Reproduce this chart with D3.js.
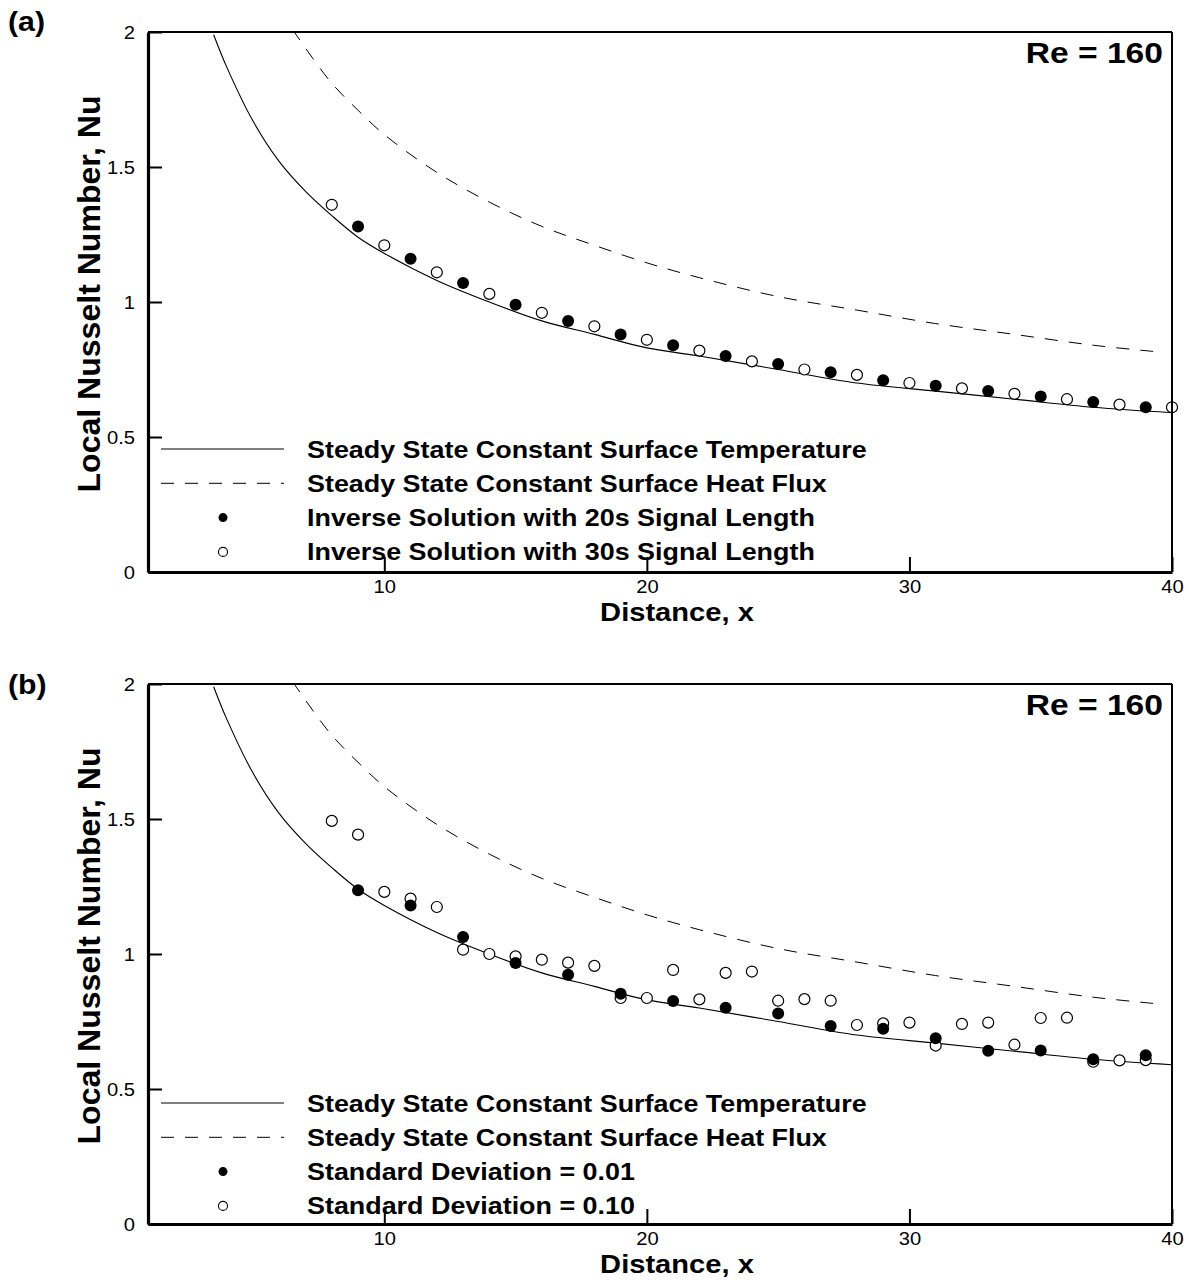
<!DOCTYPE html>
<html>
<head>
<meta charset="utf-8">
<script src="https://cdn.jsdelivr.net/npm/d3@7"></script>
<style>
  body { margin: 0; background: #fff; }
  svg { display: block; font-family: "Liberation Sans", Arial, sans-serif; }
  .bold { font-weight: bold; }
</style>
</head>
<body>
<svg id="chart" width="1189" height="1282"></svg>
<script>
// axis ticks
const xTicks = [10, 20, 30, 40];
const yTicks = [0, 0.5, 1, 1.5, 2];
const yTickLabels = ["0", "0.5", "1", "1.5", "2"];

// steady state curves
const tempCurveX = [3.5, 4, 5, 6, 7, 8, 9, 10, 12, 14, 16, 18, 20, 22, 25, 28, 31, 34, 37, 40];
const tempCurveNu = [1.99, 1.87, 1.67, 1.52, 1.41, 1.32, 1.24, 1.18, 1.08, 1.00, 0.93, 0.88, 0.83, 0.80, 0.75, 0.70, 0.67, 0.64, 0.61, 0.59];
const fluxCurveX = [6.5, 7, 8, 9, 10, 12, 14, 16, 18, 20, 22, 25, 28, 31, 34, 37, 39.5];
const fluxCurveNu = [2.01, 1.94, 1.81, 1.71, 1.62, 1.48, 1.37, 1.28, 1.21, 1.145, 1.09, 1.02, 0.97, 0.92, 0.88, 0.84, 0.815];

// panel (a): inverse solutions
const aFilledX = [9, 11, 13, 15, 17, 19, 21, 23, 25, 27, 29, 31, 33, 35, 37, 39];
const aFilledNu = [1.28, 1.16, 1.07, 0.99, 0.93, 0.88, 0.84, 0.80, 0.77, 0.74, 0.71, 0.69, 0.67, 0.65, 0.63, 0.61];
const aOpenX = [8, 10, 12, 14, 16, 18, 20, 22, 24, 26, 28, 30, 32, 34, 36, 38, 40];
const aOpenNu = [1.36, 1.21, 1.11, 1.03, 0.96, 0.91, 0.86, 0.82, 0.78, 0.75, 0.73, 0.70, 0.68, 0.66, 0.64, 0.62, 0.61];

// panel (b): standard deviation
const bFilledX = [9, 11, 13, 15, 17, 19, 21, 23, 25, 27, 29, 31, 33, 35, 37, 39];
const bFilledNu = [1.236, 1.18, 1.063, 0.967, 0.923, 0.853, 0.826, 0.801, 0.78, 0.733, 0.723, 0.688, 0.642, 0.643, 0.61, 0.625];
const bOpenX = [8, 9, 10, 11, 12, 13, 14, 15, 16, 17, 18, 19, 20, 21, 22, 23, 24, 25, 26, 27, 28, 29, 30, 31, 32, 33, 34, 35, 36, 37, 38, 39];
const bOpenNu = [1.493, 1.442, 1.23, 1.205, 1.174, 1.016, 1.0, 0.991, 0.979, 0.968, 0.956, 0.837, 0.837, 0.941, 0.832, 0.93, 0.935, 0.827, 0.833, 0.827, 0.737, 0.743, 0.746, 0.661, 0.741, 0.746, 0.664, 0.763, 0.764, 0.601, 0.606, 0.607];

const aLegend = ["Steady State Constant Surface Temperature", "Steady State Constant Surface Heat Flux",
                 "Inverse Solution with 20s Signal Length", "Inverse Solution with 30s Signal Length"];
const bLegend = ["Steady State Constant Surface Temperature", "Steady State Constant Surface Heat Flux",
                 "Standard Deviation = 0.01", "Standard Deviation = 0.10"];

const svg = d3.select("#chart");
const STRETCH = 1.12;   // the original lettering is a bit wide

// widen text horizontally to match the original
function stretch(sel, k) {
    sel.each(function() {
        const w = this.getComputedTextLength();
        d3.select(this).attr("textLength", w * k).attr("lengthAdjust", "spacingAndGlyphs");
    });
}

const panels = [
    { tag: "(a)", top: 32, filledX: aFilledX, filledNu: aFilledNu, openX: aOpenX, openNu: aOpenNu, legend: aLegend, legendY: 449, tagY: 31 },
    { tag: "(b)", top: 684, filledX: bFilledX, filledNu: bFilledNu, openX: bOpenX, openNu: bOpenNu, legend: bLegend, legendY: 1103, tagY: 694 }
];

const left = 148, right = 1172, plotH = 540;

panels.forEach((p, i) => {
    const bottom = p.top + plotH;
    const x = d3.scaleLinear().domain([1, 40]).range([left, right]);
    const y = d3.scaleLinear().domain([0, 2]).range([bottom, p.top]);
    const g = svg.append("g");

    const clipId = "clip" + i;
    g.append("clipPath").attr("id", clipId)
        .append("rect").attr("x", left).attr("y", p.top).attr("width", right - left).attr("height", plotH);

    const line = d3.line().curve(d3.curveCatmullRom.alpha(0.5)).x(d => x(d[0])).y(d => y(d[1]));
    const plot = g.append("g").attr("clip-path", `url(#${clipId})`);

    plot.append("path")
        .datum(d3.zip(tempCurveX, tempCurveNu))
        .attr("d", line)
        .attr("fill", "none").attr("stroke", "#000").attr("stroke-width", 1.1);

    plot.append("path")
        .datum(d3.zip(fluxCurveX, fluxCurveNu))
        .attr("d", line)
        .attr("fill", "none").attr("stroke", "#000").attr("stroke-width", 1)
        .attr("stroke-dasharray", "13,11");

    // markers (not clipped: the last open circle sits on the axis)
    g.append("g").selectAll("circle")
        .data(d3.zip(p.openX, p.openNu))
        .join("circle")
        .attr("cx", d => x(d[0])).attr("cy", d => y(d[1])).attr("r", 5.5)
        .attr("fill", "#fff").attr("stroke", "#000").attr("stroke-width", 1.2);

    g.append("g").selectAll("circle")
        .data(d3.zip(p.filledX, p.filledNu))
        .join("circle")
        .attr("cx", d => x(d[0])).attr("cy", d => y(d[1])).attr("r", 6)
        .attr("fill", "#000");

    // frame
    g.append("line").attr("x1", left).attr("x2", right).attr("y1", p.top).attr("y2", p.top)
        .attr("stroke", "#000").attr("stroke-width", 2);
    g.append("line").attr("x1", right).attr("x2", right).attr("y1", p.top).attr("y2", bottom)
        .attr("stroke", "#000").attr("stroke-width", 2);

    // axes with inward ticks
    const xAxis = g.append("g").attr("transform", `translate(0,${bottom})`)
        .call(d3.axisBottom(x).tickValues(xTicks).tickSizeInner(-15).tickSizeOuter(0).tickPadding(8));
    const yAxis = g.append("g").attr("transform", `translate(${left},0)`)
        .call(d3.axisLeft(y).tickValues(yTicks).tickFormat((d, k) => yTickLabels[k])
            .tickSizeInner(-14).tickSizeOuter(0).tickPadding(13));

    [xAxis, yAxis].forEach(a => {
        a.select(".domain").attr("stroke", "#000").attr("stroke-width", 3.2);
        a.selectAll(".tick line").attr("stroke", "#000").attr("stroke-width", 2);
        a.selectAll(".tick text").attr("font-size", 18).attr("fill", "#000")
            .attr("font-family", "'Liberation Sans', Arial, sans-serif");
    });
    xAxis.selectAll(".tick text").attr("dy", "0.71em");
    yAxis.selectAll(".tick text").attr("dy", "0.35em");
    stretch(xAxis.selectAll(".tick text"), STRETCH);
    stretch(yAxis.selectAll(".tick text"), STRETCH);

    // titles
    const xt = g.append("text").attr("class", "bold").attr("x", 677).attr("y", bottom + 49)
        .attr("text-anchor", "middle").attr("font-size", 26).text("Distance, x");
    stretch(xt, STRETCH);

    g.append("text").attr("class", "bold")
        .attr("transform", `translate(100,${p.top + 262}) rotate(-90)`)
        .attr("text-anchor", "middle").attr("font-size", 31)
        .attr("textLength", 397).attr("lengthAdjust", "spacingAndGlyphs")
        .text("Local Nusselt Number, Nu");

    const tag = g.append("text").attr("class", "bold").attr("x", 8).attr("y", p.tagY)
        .attr("font-size", 27).text(p.tag);
    stretch(tag, STRETCH);

    const re = g.append("text").attr("class", "bold").attr("x", 1163).attr("y", p.top + 31)
        .attr("text-anchor", "end").attr("font-size", 30).text("Re = 160");
    stretch(re, STRETCH);

    // legend
    const rowGap = 34.3;
    const ly = k => p.legendY + k * rowGap;
    g.append("line").attr("x1", 161).attr("x2", 284).attr("y1", ly(0)).attr("y2", ly(0))
        .attr("stroke", "#000").attr("stroke-width", 1.1);
    g.append("line").attr("x1", 161).attr("x2", 284).attr("y1", ly(1)).attr("y2", ly(1))
        .attr("stroke", "#000").attr("stroke-width", 1).attr("stroke-dasharray", "13,11");
    g.append("circle").attr("cx", 223).attr("cy", ly(2)).attr("r", 4.5).attr("fill", "#000");
    g.append("circle").attr("cx", 223).attr("cy", ly(3)).attr("r", 4.5)
        .attr("fill", "#fff").attr("stroke", "#000").attr("stroke-width", 1.1);

    const lt = g.append("g").selectAll("text")
        .data(p.legend)
        .join("text").attr("class", "bold")
        .attr("x", 307).attr("y", (d, k) => ly(k) + 8.5)
        .attr("font-size", 24).text(d => d);
    stretch(lt, STRETCH);
});
</script>
</body>
</html>
